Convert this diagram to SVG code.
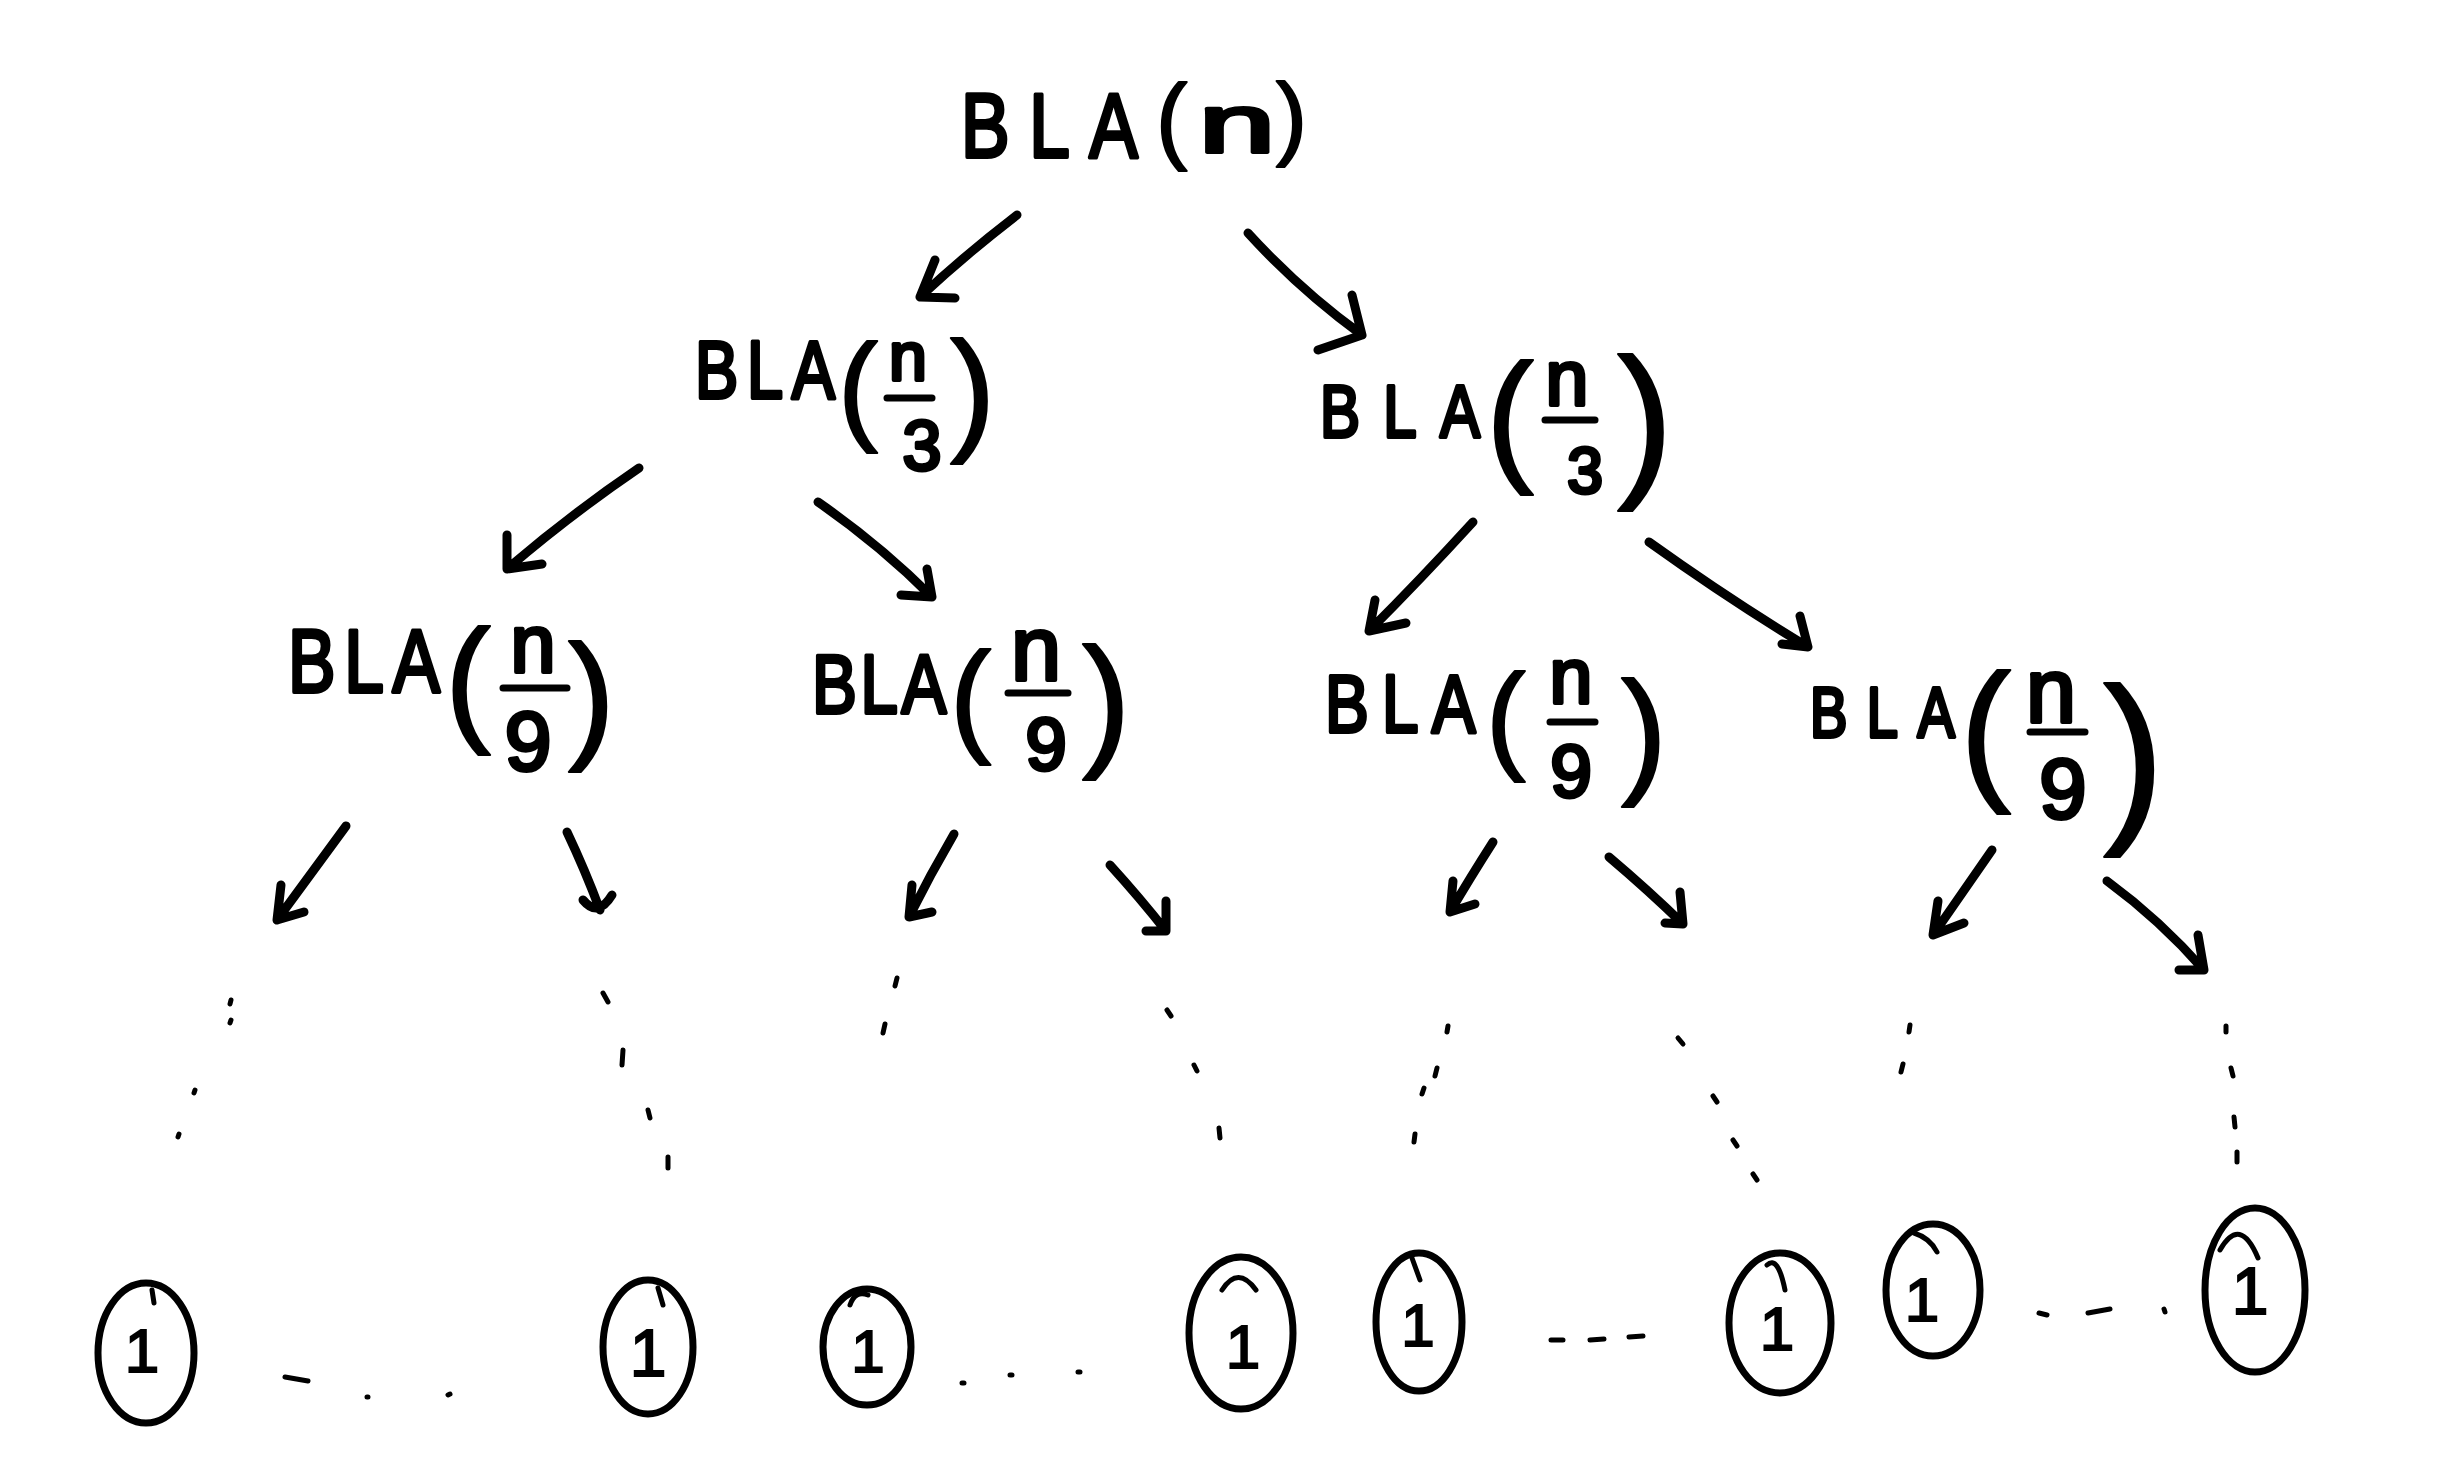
<svg xmlns="http://www.w3.org/2000/svg" width="2444" height="1468" viewBox="0 0 2444 1468">
<style>
.t{font-family:"Liberation Sans",Arial,sans-serif;font-weight:normal;fill:#000;stroke:#000;stroke-width:4;stroke-linejoin:round}
.p{stroke-width:2}
.one{font-family:"Liberation Sans",Arial,sans-serif;font-weight:normal;fill:#000;stroke:#000;stroke-width:2;text-anchor:middle}
.m{text-anchor:middle}
.ln{stroke:#000;stroke-width:9;stroke-linecap:round;stroke-linejoin:round;fill:none}
.bar{stroke:#000;stroke-width:7;stroke-linecap:round}
.dot{stroke:#000;stroke-width:5;stroke-linecap:round;fill:none}
.leaf{fill:none;stroke:#000;stroke-width:7}
.tick{fill:none;stroke:#000;stroke-width:5;stroke-linecap:round}
</style>
<rect width="2444" height="1468" fill="#fff"/>

<g id="root">
<text class="t" transform="translate(961 157) scale(0.8 1)" font-size="91" textLength="221" lengthAdjust="spacing">BLA</text>
<text class="t p" x="1156" y="151" font-size="94">(</text>
<text class="t" x="1199" y="152" font-size="81" stroke-width="2" textLength="76" lengthAdjust="spacingAndGlyphs">n</text>
<text class="t p" x="1276" y="148" font-size="93">)</text>
</g>

<g id="n3-left">
<text class="t" transform="translate(695 398) scale(0.8 1)" font-size="81" textLength="175" lengthAdjust="spacing">BLA</text>
<text class="t p" x="838" y="428" font-size="120">(</text>
<text class="t m" x="908" y="380" font-size="68">n</text>
<line class="bar" x1="887" y1="398" x2="932" y2="398"/>
<text class="t m" x="922" y="470" font-size="70">3</text>
<text class="t p" x="950" y="436" font-size="136">)</text>
</g>

<g id="n3-right">
<text class="t" transform="translate(1320 437) scale(0.8 1)" font-size="75" textLength="200" lengthAdjust="spacing">BLA</text>
<text class="t p" x="1486" y="465" font-size="144">(</text>
<text class="t m" x="1567" y="405" font-size="77">n</text>
<line class="bar" x1="1545" y1="420" x2="1595" y2="420"/>
<text class="t m" x="1585" y="493" font-size="64">3</text>
<text class="t p" x="1617" y="476" font-size="169">)</text>
</g>

<g id="n9-1">
<text class="t" transform="translate(288 692) scale(0.8 1)" font-size="89" textLength="190" lengthAdjust="spacing">BLA</text>
<text class="t p" x="445" y="726" font-size="138">(</text>
<text class="t m" x="533" y="672" font-size="81">n</text>
<line class="bar" x1="503" y1="688" x2="567" y2="688"/>
<text class="t m" x="528" y="770" font-size="84">9</text>
<text class="t p" x="568" y="743" font-size="141">)</text>
</g>

<g id="n9-2">
<text class="t" transform="translate(812 713) scale(0.8 1)" font-size="84" textLength="168" lengthAdjust="spacing">BLA</text>
<text class="t p" x="950" y="739" font-size="124">(</text>
<text class="t m" x="1036" y="680" font-size="90">n</text>
<line class="bar" x1="1008" y1="693" x2="1068" y2="693"/>
<text class="t m" x="1046" y="770" font-size="74">9</text>
<text class="t p" x="1082" y="750" font-size="146">)</text>
</g>

<g id="n9-3">
<text class="t" transform="translate(1325 732) scale(0.8 1)" font-size="82" textLength="188" lengthAdjust="spacing">BLA</text>
<text class="t p" x="1486" y="757" font-size="119">(</text>
<text class="t m" x="1571" y="703" font-size="77">n</text>
<line class="bar" x1="1550" y1="722" x2="1595" y2="722"/>
<text class="t m" x="1571" y="797" font-size="75">9</text>
<text class="t p" x="1621" y="778" font-size="138">)</text>
</g>

<g id="n9-4">
<text class="t" transform="translate(1810 737) scale(0.8 1)" font-size="70" textLength="181" lengthAdjust="spacing">BLA</text>
<text class="t p" x="1960" y="782" font-size="154">(</text>
<text class="t m" x="2051" y="722" font-size="90">n</text>
<line class="bar" x1="2030" y1="732" x2="2085" y2="732"/>
<text class="t m" x="2063" y="818" font-size="85">9</text>
<text class="t p" x="2103" y="818" font-size="185">)</text>
</g>

<g id="leaf-1"><ellipse class="leaf" cx="146" cy="1353" rx="48" ry="70"/><path class="tick" d="M152,1290 L154,1303"/><text class="one" x="142" y="1372" font-size="62">1</text></g>
<g id="leaf-2"><ellipse class="leaf" cx="648" cy="1347" rx="45" ry="67"/><path class="tick" d="M658,1288 L663,1305"/><text class="one" x="648" y="1376" font-size="66">1</text></g>
<g id="leaf-3"><ellipse class="leaf" cx="867" cy="1347" rx="44" ry="58"/><path class="tick" d="M850,1305 Q855,1290 868,1295"/><text class="one" x="868" y="1372" font-size="60">1</text></g>
<g id="leaf-4"><ellipse class="leaf" cx="1241" cy="1333" rx="52" ry="76"/><path class="tick" d="M1222,1290 Q1238,1265 1256,1290"/><text class="one" x="1243" y="1368" font-size="62">1</text></g>
<g id="leaf-5"><ellipse class="leaf" cx="1419" cy="1322" rx="43" ry="69"/><path class="tick" d="M1412,1258 L1420,1280"/><text class="one" x="1418" y="1346" font-size="60">1</text></g>
<g id="leaf-6"><ellipse class="leaf" cx="1780" cy="1323" rx="51" ry="70"/><path class="tick" d="M1767,1265 Q1778,1255 1785,1290"/><text class="one" x="1777" y="1350" font-size="62">1</text></g>
<g id="leaf-7"><ellipse class="leaf" cx="1933" cy="1290" rx="47" ry="66"/><path class="tick" d="M1914,1233 Q1930,1238 1937,1252"/><text class="one" x="1922" y="1321" font-size="62">1</text></g>
<g id="leaf-8"><ellipse class="leaf" cx="2255" cy="1290" rx="50" ry="82"/><path class="tick" d="M2220,1250 Q2240,1215 2258,1258"/><text class="one" x="2250" y="1314" font-size="66">1</text></g>

<g id="connectors">
<path class="ln" d="M1017,215 Q965,255 920,297 M935,260 L920,297 L955,298"/>
<path class="ln" d="M1248,233 Q1300,290 1362,335 M1352,295 L1362,335 L1318,350"/>
<path class="ln" d="M639,468 Q570,515 507,569 M507,535 L507,569 L542,564"/>
<path class="ln" d="M818,502 Q880,545 932,597 M927,569 L932,597 L901,595"/>
<path class="ln" d="M1473,522 Q1420,580 1369,631 M1375,600 L1369,631 L1406,623"/>
<path class="ln" d="M1649,542 Q1730,600 1808,647 M1800,616 L1808,647 L1782,644"/>
<path class="ln" d="M346,826 Q310,875 277,920 M281,885 L277,920 L304,912"/>
<path class="ln" d="M567,832 Q585,870 600,910 M583,900 Q598,918 612,895"/>
<path class="ln" d="M954,834 Q930,875 909,917 M912,885 L909,917 L932,912"/>
<path class="ln" d="M1110,865 Q1140,898 1166,931 M1166,901 L1166,931 L1146,931"/>
<path class="ln" d="M1493,842 Q1470,878 1450,912 M1453,881 L1450,912 L1475,904"/>
<path class="ln" d="M1609,857 Q1648,890 1683,924 M1680,892 L1683,924 L1665,923"/>
<path class="ln" d="M1992,850 Q1962,893 1933,935 M1938,901 L1933,935 L1964,923"/>
<path class="ln" d="M2107,881 Q2160,920 2204,970 M2198,935 L2204,970 L2179,970"/>
<g id="trails">
<path class="dot" d="M231,1000 L230,1004 M231,1020 L230,1023 M195,1090 L194,1093 M179,1134 L178,1137"/>
<path class="dot" d="M603,993 L608,1002 M623,1050 L622,1065 M648,1110 L650,1118 M668,1157 L668,1168"/>
<path class="dot" d="M897,978 L895,986 M885,1024 L883,1033"/>
<path class="dot" d="M1167,1010 L1171,1016 M1194,1065 L1197,1071 M1219,1128 L1220,1138"/>
<path class="dot" d="M1448,1026 L1447,1032 M1437,1068 L1435,1076 M1424,1088 L1422,1094 M1415,1134 L1414,1142"/>
<path class="dot" d="M1678,1038 L1683,1044 M1713,1096 L1717,1102 M1733,1140 L1737,1146 M1753,1174 L1757,1180"/>
<path class="dot" d="M1910,1025 L1909,1032 M1903,1064 L1901,1072"/>
<path class="dot" d="M2226,1026 L2226,1032 M2231,1068 L2233,1076 M2234,1117 L2235,1127 M2237,1152 L2237,1162"/>
</g>
<g id="ellipses-dots">
<path class="dot" d="M285,1377 L308,1381 M367,1397 L368,1397 M448,1395 L450,1394"/>
<path class="dot" d="M962,1383 L964,1383 M1010,1375 L1012,1375 M1078,1372 L1080,1372"/>
<path class="dot" d="M1551,1340 L1563,1340 M1590,1340 L1604,1339 M1629,1337 L1643,1336"/>
<path class="dot" d="M2039,1313 L2047,1315 M2088,1313 L2110,1309 M2164,1309 L2165,1312"/>
</g>
</g>
</svg>
